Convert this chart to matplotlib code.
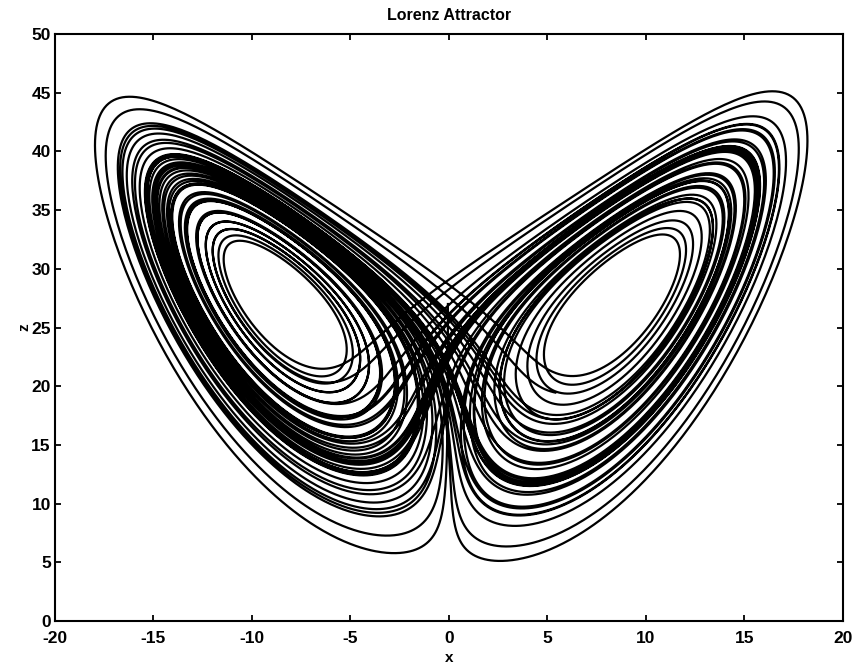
import numpy as np
import matplotlib
matplotlib.use('Agg')
import matplotlib.pyplot as plt

# Lorenz system parameters and start point
sigma = 10.0
rho = 28.0
beta = 8.0 / 3.0
start = [-0.05, -0.05, 27.0]
t_end = 60.0
dt = 0.002

x_ticks = [-20, -15, -10, -5, 0, 5, 10, 15, 20]
z_ticks = [0, 5, 10, 15, 20, 25, 30, 35, 40, 45, 50]


def deriv(s):
    x, y, z = s
    return np.array([sigma * (y - x), x * (rho - z) - y, x * y - beta * z])


# classic RK4 integration of the trajectory
n = int(t_end / dt)
traj = np.zeros((n, 3))
traj[0] = start
for i in range(1, n):
    s = traj[i - 1]
    k1 = deriv(s)
    k2 = deriv(s + dt / 2 * k1)
    k3 = deriv(s + dt / 2 * k2)
    k4 = deriv(s + dt * k3)
    traj[i] = s + dt / 6 * (k1 + 2 * k2 + 2 * k3 + k4)

plt.rcParams['font.family'] = ['Liberation Sans', 'DejaVu Sans']
plt.rcParams['font.weight'] = 'bold'
plt.rcParams['axes.unicode_minus'] = False

fig = plt.figure(figsize=(8.53, 6.65), dpi=100)
ax = fig.add_axes([0.0645, 0.066, 0.9235, 0.883])
ax.plot(traj[:, 0], traj[:, 2], color='black', lw=1.6)

ax.set_xlim(-20, 20)
ax.set_ylim(0, 50)
ax.set_xticks(x_ticks)
ax.set_yticks(z_ticks)
ax.tick_params(direction='in', length=4.5, width=1.3, labelsize=12.5,
               top=True, right=True)
ax.tick_params(axis='x', pad=7)
ax.tick_params(axis='y', pad=3)
for sp in ax.spines.values():
    sp.set_linewidth(1.5)
ax.set_title('Lorenz Attractor', fontsize=11.5, fontweight='bold', pad=10)
ax.set_xlabel('x', fontsize=11, fontweight='bold', labelpad=4)
ax.set_ylabel('z', fontsize=11, fontweight='bold', labelpad=0)

fig.savefig('out.png', dpi=100)
